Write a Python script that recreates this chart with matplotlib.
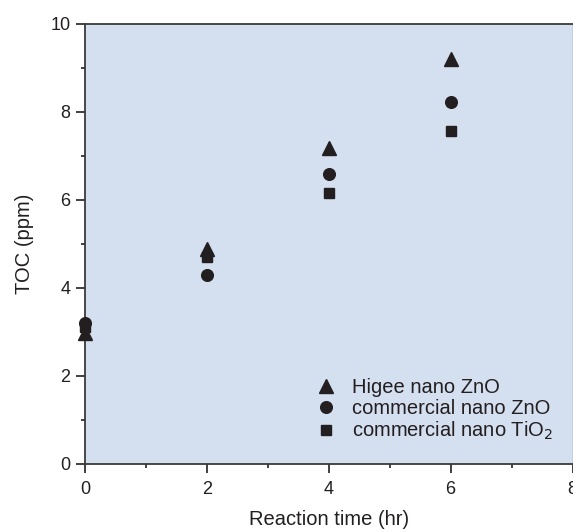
import matplotlib
matplotlib.use("Agg")
import matplotlib.pyplot as plt
from matplotlib.ticker import MultipleLocator

plt.rcParams['font.family'] = ['Liberation Sans', 'DejaVu Sans']

time_hr = [0, 2, 4, 6]
higee_zno = [2.97, 4.87, 7.17, 9.19]
comm_zno = [3.19, 4.28, 6.58, 8.21]
comm_tio2 = [3.10, 4.69, 6.15, 7.56]

labels = ["Higee nano ZnO", "commercial nano ZnO", "commercial nano TiO$_2$"]

fig = plt.figure(figsize=(5.73, 5.32), dpi=100)
ax = fig.add_axes([85 / 573, (532 - 463.5) / 532, (572.5 - 85) / 573, 440 / 532])
ax.set_facecolor('#d4dff0')

c = '#231f20'
ax.plot(time_hr, comm_tio2, 's', color=c, ms=7.2, label=labels[2], clip_on=False, zorder=3)
ax.plot(time_hr, comm_zno, 'o', color=c, ms=8.4, label=labels[1], clip_on=False, zorder=3)
ax.plot(time_hr, higee_zno, '^', color=c, ms=9.6, label=labels[0], clip_on=False, zorder=4)

ax.set_xlim(0, 8)
ax.set_ylim(0, 10)
ax.xaxis.set_major_locator(MultipleLocator(2))
ax.xaxis.set_minor_locator(MultipleLocator(1))
ax.yaxis.set_major_locator(MultipleLocator(2))
ax.yaxis.set_minor_locator(MultipleLocator(1))
ax.tick_params(which='both', direction='out', color=c, width=1.2, labelsize=13,
               labelcolor=c, top=False, right=False)
ax.tick_params(which='major', length=6.5)
ax.tick_params(which='minor', length=3)
ax.tick_params(axis='x', which='major', pad=6)
ax.tick_params(axis='y', which='major', pad=4)

for s in ['left', 'bottom', 'top']:
    ax.spines[s].set_color('#3a3a3a')
    ax.spines[s].set_linewidth(1.3)
ax.spines['right'].set_color('#8a8f99')
ax.spines['right'].set_linewidth(1.0)

ax.set_xlabel('Reaction time (hr)', fontsize=14.5, color=c, labelpad=9)
ax.set_ylabel('TOC (ppm)', fontsize=14.5, color=c, labelpad=12)

handles, labs = ax.get_legend_handles_labels()
order = [2, 1, 0]
leg = ax.legend([handles[i] for i in order], [labs[i] for i in order],
                loc='upper left', bbox_to_anchor=(0.4365, 0.236), frameon=False,
                fontsize=14.5, handletextpad=0.8, labelspacing=0.1,
                handlelength=1.0, borderpad=0.4, markerscale=1.0)
for t in leg.get_texts():
    t.set_color(c)

fig.savefig('out.png', dpi=100)
